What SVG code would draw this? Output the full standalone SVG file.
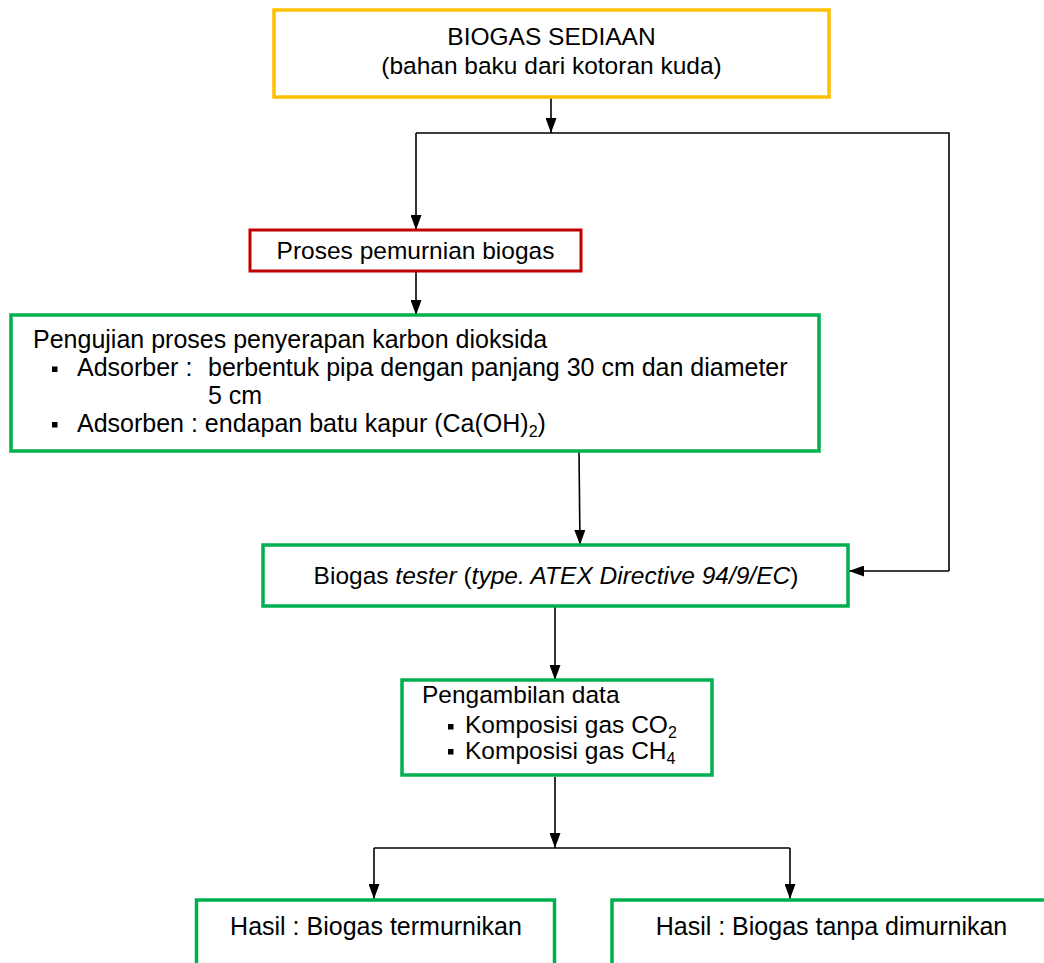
<svg xmlns="http://www.w3.org/2000/svg" width="1044" height="963" viewBox="0 0 1044 963">
<defs>
<marker id="ah" viewBox="0 0 15 11" refX="15" refY="5.5" markerWidth="15" markerHeight="11" markerUnits="userSpaceOnUse" orient="auto">
<path d="M0,0 L15,5.5 L0,11 Z" fill="#000"/>
</marker>
</defs>
<style>
text{font-family:"Liberation Sans",Arial,sans-serif;font-size:24.5px;fill:#000}
.box{fill:#fff}
.y{stroke:#FFC000;stroke-width:3.5}
.r{stroke:#C00000;stroke-width:3}
.g{stroke:#00B050;stroke-width:3.5}
.c{fill:none;stroke:#000;stroke-width:1.6}
.ca{fill:none;stroke:#000;stroke-width:1.6;marker-end:url(#ah)}
.it{font-style:italic}
.sub{font-size:16px}
.m{text-anchor:middle}
.big{font-size:25px}
</style>
<rect width="1044" height="963" fill="#fff"/>
<g id="connectors">
<path class="ca" d="M551,97 V133"/>
<path class="c" d="M416,133 H949 V571"/>
<path class="ca" d="M416,133 V230"/>
<path class="ca" d="M949,571 H849"/>
<path class="ca" d="M416,271 V315"/>
<path class="ca" d="M579,452 L580,545"/>
<path class="ca" d="M555,606 V680"/>
<path class="ca" d="M555,777 V848"/>
<path class="c" d="M374,848 H790"/>
<path class="ca" d="M374,848 V899"/>
<path class="ca" d="M790,848 V899"/>
</g>
<g id="n-biogas-sediaan">
<rect class="box y" x="274" y="10" width="555" height="87"/>
<text class="m" x="551.5" y="45" font-size="24.3">BIOGAS SEDIAAN</text>
<text class="m" x="551.5" y="74" font-size="24.3">(bahan baku dari kotoran kuda)</text>
</g>
<g id="n-proses">
<rect class="box r" x="250" y="230" width="331" height="41"/>
<text class="m" x="415.5" y="259">Proses pemurnian biogas</text>
</g>
<g id="n-pengujian">
<rect class="box g" x="11" y="315" width="808" height="136"/>
<text class="big" x="33" y="348">Pengujian proses penyerapan karbon dioksida</text>
<rect x="52" y="366.5" width="5.5" height="5.5"/>
<text class="big" x="77" y="376">Adsorber :</text>
<text class="big" x="208" y="376">berbentuk pipa dengan panjang 30 cm dan diameter</text>
<text class="big" x="208" y="404">5 cm</text>
<rect x="52" y="422" width="5.5" height="5.5"/>
<text class="big" x="77" y="432">Adsorben : endapan batu kapur (Ca(OH)<tspan class="sub" dy="5">2</tspan><tspan dy="-5">)</tspan></text>
</g>
<g id="n-tester">
<rect class="box g" x="263" y="545" width="585" height="61"/>
<text class="m" x="556" y="584" font-size="25.3">Biogas <tspan class="it">tester</tspan> (<tspan class="it">type. ATEX Directive 94/9/EC</tspan>)</text>
</g>
<g id="n-data">
<rect class="box g" x="402" y="680" width="310" height="95"/>
<text x="422" y="703">Pengambilan data</text>
<rect x="448" y="724" width="5.5" height="5.5"/>
<text x="465" y="733">Komposisi gas CO<tspan class="sub" dy="5">2</tspan></text>
<rect x="448" y="749" width="5.5" height="5.5"/>
<text x="465" y="759">Komposisi gas CH<tspan class="sub" dy="5">4</tspan></text>
</g>
<g id="n-hasil-1">
<rect class="box g" x="196.5" y="900" width="358" height="80"/>
<text class="m big" x="376" y="935">Hasil : Biogas termurnikan</text>
</g>
<g id="n-hasil-2">
<rect class="box g" x="612" y="900" width="440" height="80"/>
<text class="m big" x="831.5" y="935">Hasil : Biogas tanpa dimurnikan</text>
</g>
</svg>
